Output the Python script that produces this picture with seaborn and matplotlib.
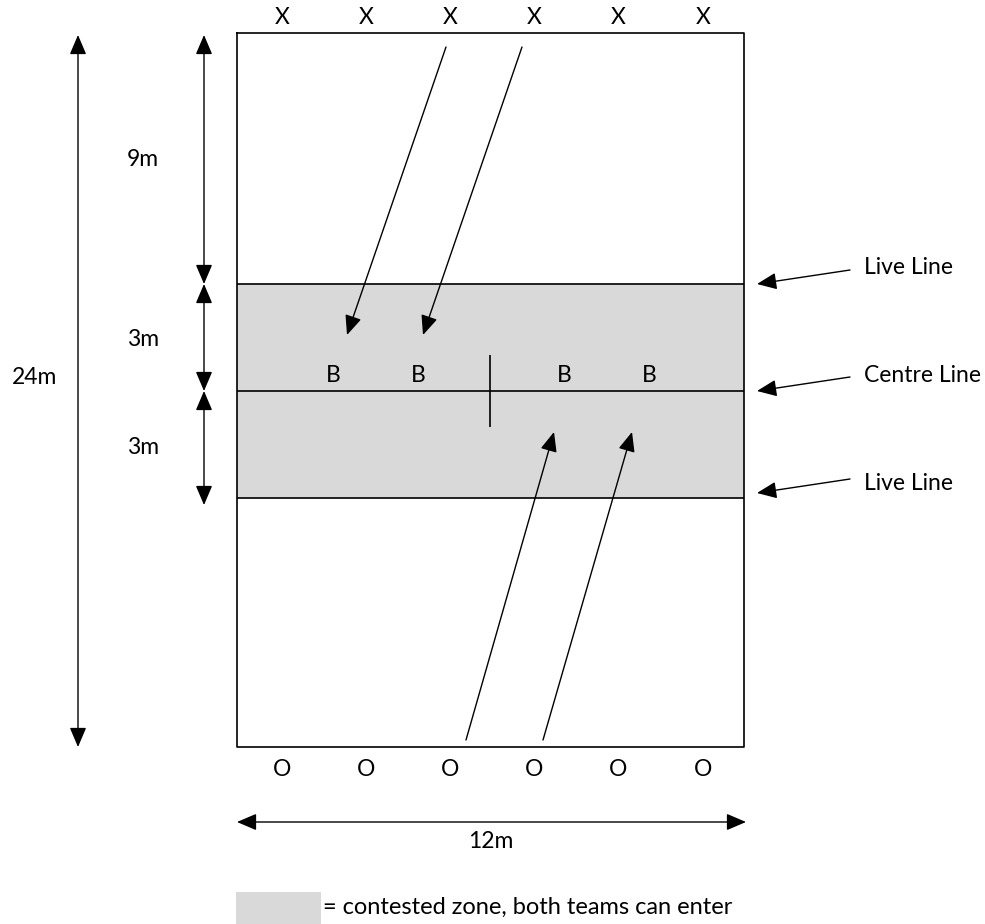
import seaborn as sns
import matplotlib.pyplot as plt

# Diagram geometry (pixel space of the original drawing, y grows downward)
court_x = [237, 744]
court_y = [33, 747]
live_lines = [284, 498]
centre_line = 391
centre_mark = [490, 355, 427]  # x, y0, y1

player_x = [282, 366, 450, 534, 618, 703]
x_row_y = 17
o_row_y = 770
ball_x = [333, 418, 564, 649]
ball_y = 376

# throw arrows: (start x, start y, end x, end y)
throws = [(446, 47, 347, 335), (522, 47, 423, 335),
          (466, 740, 554, 432), (543, 740, 632, 432)]

# dimension arrows and their labels
dims_v = [(78, 35, 747, '24m', 35, 377),
          (204, 35, 284, '9m', 143, 160),
          (204, 284, 391, '3m', 143, 340),
          (204, 391, 505, '3m', 143, 447)]
dim_h = (237, 746, 822, '12m', 491, 841)

line_names = ['Live Line', 'Centre Line', 'Live Line']
line_label_y = [268, 376, 483]
line_arrow_y = [(270, 284), (377, 391), (479, 493)]

zone_color = '#d9d9d9'
legend_text = '= contested zone, both teams can enter'

sns.set_theme(style='white')
plt.rcParams['font.family'] = ['Lato', 'DejaVu Sans']
plt.rcParams['text.color'] = 'black'

fig = plt.figure(figsize=(9.85, 9.24), dpi=100)
ax = fig.add_axes([0, 0, 1, 1])
ax.set_xlim(0, 985)
ax.set_ylim(924, 0)
ax.axis('off')

fs = 16.5
head = 'head_length=0.75,head_width=0.32'
arrow_kw = dict(arrowstyle='-|>,' + head, color='black',
                lw=1.0, mutation_scale=16, shrinkA=0, shrinkB=0)
darrow_kw = dict(arrowstyle='<|-|>,' + head, color='black',
                 lw=1.0, mutation_scale=16, shrinkA=0, shrinkB=0)

# contested zone
ax.fill_between(court_x, live_lines[0], live_lines[1], color=zone_color, lw=0)

# court outline and lines
ax.plot([court_x[0], court_x[1], court_x[1], court_x[0], court_x[0]],
        [court_y[0], court_y[0], court_y[1], court_y[1], court_y[0]],
        color='black', lw=1.2)
ax.hlines(live_lines + [centre_line], court_x[0], court_x[1], color='black', lw=1.2)
ax.vlines(centre_mark[0], centre_mark[1], centre_mark[2], color='black', lw=1.2)

# players and balls
for x in player_x:
    ax.text(x, x_row_y, 'X', ha='center', va='center', fontsize=fs)
    ax.text(x, o_row_y, 'O', ha='center', va='center', fontsize=fs)
for x in ball_x:
    ax.text(x, ball_y, 'B', ha='center', va='center', fontsize=fs)

# throws
for x0, y0, x1, y1 in throws:
    ax.annotate('', xy=(x1, y1), xytext=(x0, y0), arrowprops=arrow_kw)

# dimensions
for x, y0, y1, lab, tx, ty in dims_v:
    ax.annotate('', xy=(x, y1), xytext=(x, y0), arrowprops=darrow_kw)
    ax.text(tx, ty, lab, ha='center', va='center', fontsize=fs)
x0, x1, y, lab, tx, ty = dim_h
ax.annotate('', xy=(x1, y), xytext=(x0, y), arrowprops=darrow_kw)
ax.text(tx, ty, lab, ha='center', va='center', fontsize=fs)

# line names
for name, ty, (ay0, ay1) in zip(line_names, line_label_y, line_arrow_y):
    ax.text(864, ty, name, ha='left', va='center', fontsize=fs)
    ax.annotate('', xy=(757, ay1), xytext=(850, ay0), arrowprops=arrow_kw)

# legend
ax.fill_between([236, 321], 892, 924, color=zone_color, lw=0)
ax.text(323, 907, legend_text, ha='left', va='center', fontsize=17)

fig.savefig('out.png', dpi=100)
plt.close(fig)
